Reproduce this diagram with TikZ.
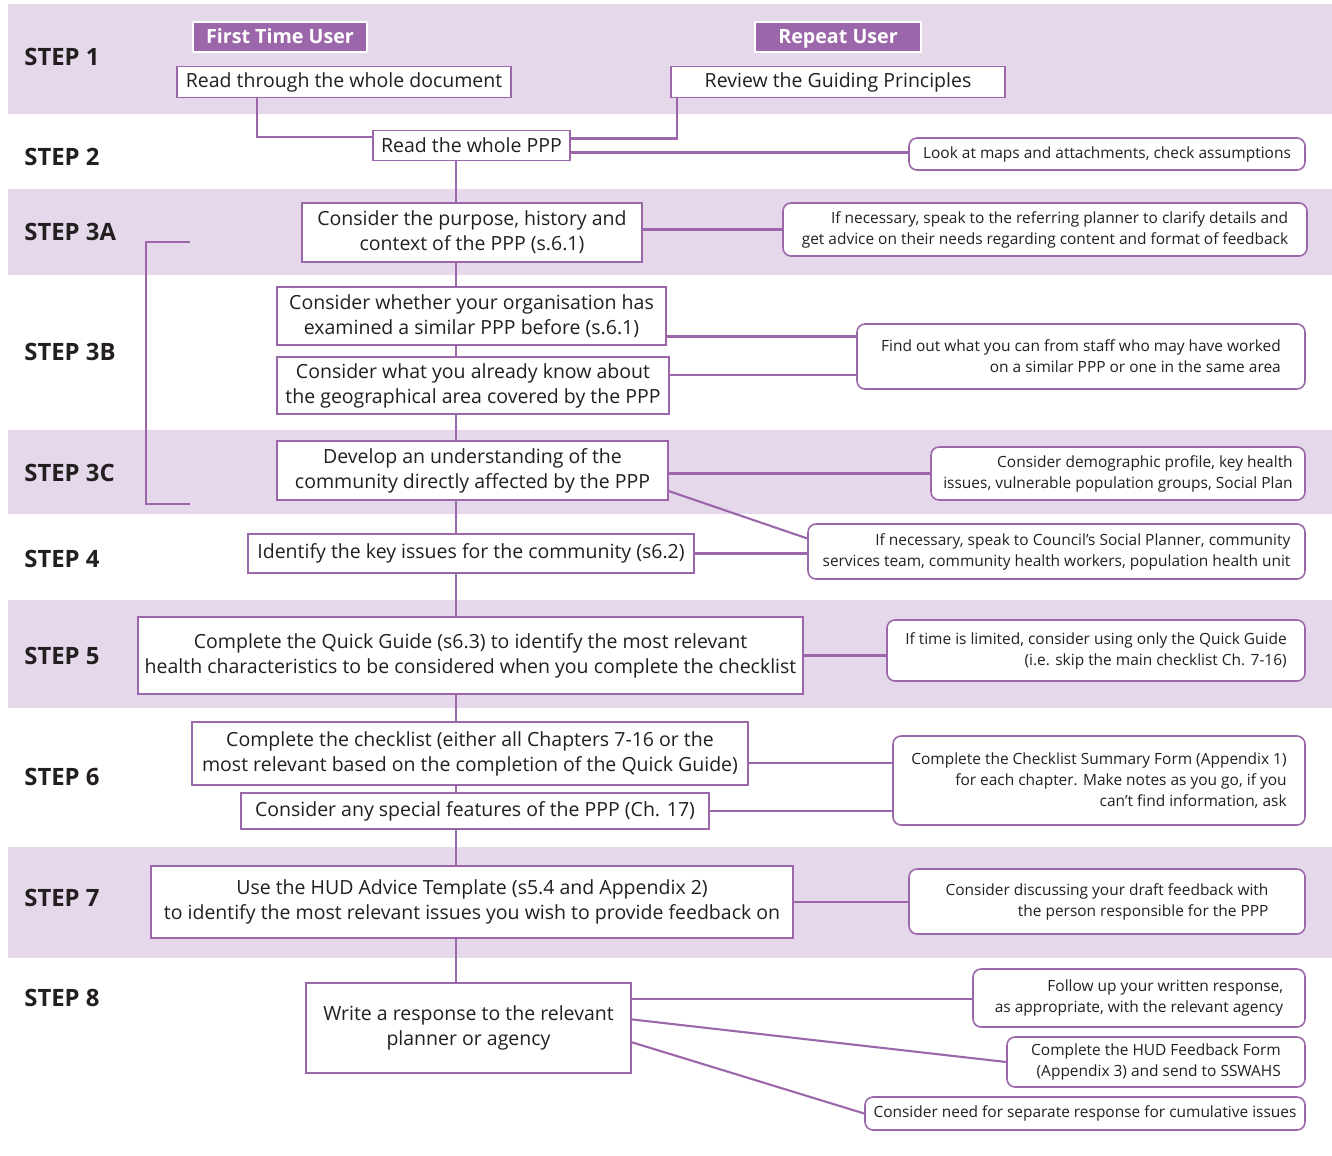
\documentclass[tikz,border=0pt]{standalone}
\usepackage{fontspec}
\setmainfont{Open Sans}
\usetikzlibrary{positioning, calc}
\definecolor{ppl}{HTML}{9B67AA}
\definecolor{lilac}{HTML}{E5D8EA}
\definecolor{ink}{HTML}{231F20}

\begin{document}
\begin{tikzpicture}[x=0.02cm, y=-0.02cm,
    band/.style={fill=lilac},
    sz/.style 2 args={minimum width=#1*0.02cm, minimum height=#2*0.02cm},
    steplbl/.style={anchor=west, inner sep=0pt, font=\fontsize{13.6}{16}\selectfont\bfseries, text=ink},
    userbox/.style={rectangle, fill=ppl, draw=white, line width=1.2pt, text=white, font=\fontsize{11.2}{13}\selectfont\bfseries, inner sep=0pt, text height=0.72em, text depth=0pt},
    stepbox/.style={rectangle, draw=ppl, fill=white, line width=1.1pt, align=center, text=ink, font=\fontsize{11.1}{14.2}\selectfont, inner sep=0pt},
    notebox/.style={rectangle, rounded corners=0.16cm, draw=ppl, fill=white, line width=0.9pt, align=right, text=ink, font=\fontsize{8.8}{11.9}\selectfont, inner sep=0pt},
    link/.style={draw=ppl, line width=1.2pt}
]
    \useasboundingbox (0,0) rectangle (1332,1156);

    % Background bands
    \fill[band] (8,4) rectangle (1332,114);
    \fill[band] (8,189) rectangle (1332,275);
    \fill[band] (8,430) rectangle (1332,514);
    \fill[band] (8,600) rectangle (1332,708);
    \fill[band] (8,847) rectangle (1332,958);

    \coordinate (trunk) at (456,0);

    % Step 1
    \node[steplbl] (l1) at (24,57) {STEP 1};
    \node[userbox, sz={174}{30}] (ftu) at (280,37) {First Time User};
    \node[userbox, sz={166}{30}] (ru) at (838,37) {Repeat User};
    \node[stepbox, sz={334}{31}] (rd) at (344,82) {Read through the whole document};
    \node[stepbox, sz={334}{31}] (rg) at (838,82) {Review the Guiding Principles};

    % Step 2
    \node[steplbl] (l2) at (24,157) {STEP 2};
    \node[stepbox, sz={197}{30}] (ppp) at (471.5,145.5) {Read the whole PPP};
    \node[notebox, sz={396}{32}] (n2) at (1107,154) {Look at maps and attachments, check assumptions};
    \draw[link] ([xshift=1.62cm]rd.south west) |- (ppp.175.4);
    \draw[link] ([xshift=0.14cm]rg.south west) |- (ppp.4.6);
    \draw[link] (ppp.-4.6) -- (ppp.-4.6 -| n2.west);

    % Step 3A
    \node[steplbl] (l3a) at (24,232) {STEP 3A};
    \node[stepbox, sz={340}{59}] (s3a) at (472,232.5) {Consider the purpose, history and\\context of the PPP (s.6.1)};
    \node[notebox, sz={524}{53}] (n3a) at (1045,229.5) {If necessary, speak to the referring planner to clarify details and\\get advice on their needs regarding content and format of feedback};
    \draw[link] (n3a.west -| s3a.east) -- (n3a.west);

    % Step 3B
    \node[steplbl] (l3b) at (24,352) {STEP 3B};
    \node[stepbox, sz={389}{58}] (s3b1) at (471.5,316) {Consider whether your organisation has\\examined a similar PPP before (s.6.1)};
    \node[stepbox, sz={392}{57}] (s3b2) at (473,385.5) {Consider what you already know about\\the geographical area covered by the PPP};
    \node[notebox, sz={448}{65}] (n3b) at (1081,356.5) {Find out what you can from staff who may have worked\\on a similar PPP or one in the same area};
    \draw[link] (s3b1.-6.7) -- (s3b1.-6.7 -| n3b.west);
    \draw[link] (s3b2.3.9) -- (s3b2.3.9 -| n3b.west);

    % Step 3C
    \node[steplbl] (l3c) at (24,473) {STEP 3C};
    \node[stepbox, sz={391}{59}] (s3c) at (472.5,470.5) {Develop an understanding of the\\community directly affected by the PPP};
    \node[notebox, sz={374}{53}] (n3c) at (1118,473.5) {Consider demographic profile, key health\\issues, vulnerable population groups, Social Plan};
    \draw[link] (n3c.west -| s3c.east) -- (n3c.west);

    % Bracket over steps 3A to 3C
    \coordinate (brtop) at (190,242);
    \coordinate (brbot) at (190,504);
    \draw[link] (brtop) -- ++(-44,0) |- (brbot);

    % Step 4
    \node[steplbl] (l4) at (24,559) {STEP 4};
    \node[stepbox, sz={446}{39}] (s4) at (471,553.5) {Identify the key issues for the community (s6.2)};
    \node[notebox, sz={497}{55}] (n4) at (1056.5,551.5) {If necessary, speak to Council’s Social Planner, community\\services team, community health workers, population health unit};
    \draw[link] (s3c.-6.3) -- (n4.177.4);
    \draw[link] (s4.east) -- (s4.east -| n4.west);

    % Step 5
    \node[steplbl] (l5) at (24,656) {STEP 5};
    \node[stepbox, sz={665}{77}] (s5) at (470.5,655.5) {Complete the Quick Guide (s6.3) to identify the most relevant\\health characteristics to be considered when you complete the checklist};
    \node[notebox, sz={418}{61}] (n5) at (1096,650.5) {If time is limited, consider using only the Quick Guide\\(i.e. skip the main checklist Ch. 7-16)};
    \draw[link] (s5.east) -- (s5.east -| n5.west);

    % Step 6
    \node[steplbl] (l6) at (24,777) {STEP 6};
    \node[stepbox, sz={556}{63}] (s6a) at (470,753.5) {Complete the checklist (either all Chapters 7-16 or the\\most relevant based on the completion of the Quick Guide)};
    \node[stepbox, sz={468}{36}] (s6b) at (475,811) {Consider any special features of the PPP (Ch. 17)};
    \node[notebox, sz={412}{89}] (n6) at (1099,780.5) {Complete the Checklist Summary Form (Appendix 1)\\for each chapter. Make notes as you go, if you\\can’t find information, ask};
    \draw[link] (s6a.-2) -- (s6a.-2 -| n6.west);
    \draw[link] (s6b.east) -- (s6b.east -| n6.west);

    % Step 7
    \node[steplbl] (l7) at (24,898) {STEP 7};
    \node[stepbox, sz={642}{72}] (s7) at (472,902) {Use the HUD Advice Template (s5.4 and Appendix 2)\\to identify the most relevant issues you wish to provide feedback on};
    \node[notebox, sz={396}{65}] (n7) at (1107,901.5) {Consider discussing your draft feedback with\\the person responsible for the PPP};
    \draw[link] (s7.east) -- (s7.east -| n7.west);

    % Step 8
    \node[steplbl] (l8) at (24,998) {STEP 8};
    \node[stepbox, sz={325}{90}] (s8) at (468.5,1028) {Write a response to the relevant\\planner or agency};
    \node[notebox, sz={332}{58}] (n8a) at (1139,998) {Follow up your written response,\\as appropriate, with the relevant agency};
    \node[notebox, sz={298}{50}] (n8b) at (1156,1062) {Complete the HUD Feedback Form\\(Appendix 3) and send to SSWAHS};
    \node[notebox, sz={440}{33}] (n8c) at (1085,1113.5) {Consider need for separate response for cumulative issues};
    \draw[link] (s8.10.8) -- (s8.10.8 -| n8a.west);
    \draw[link] (s8.3.5) -- (n8b.west);
    \draw[link] (s8.-5.6) -- (n8c.west);

    % Main trunk
    \foreach \a/\b in {ppp/s3a, s3a/s3b1, s3b1/s3b2, s3b2/s3c, s3c/s4, s4/s5, s5/s6a, s6a/s6b, s6b/s7, s7/s8}
        \draw[link] (\a.south -| trunk) -- (\b.north -| trunk);
\end{tikzpicture}
\end{document}
